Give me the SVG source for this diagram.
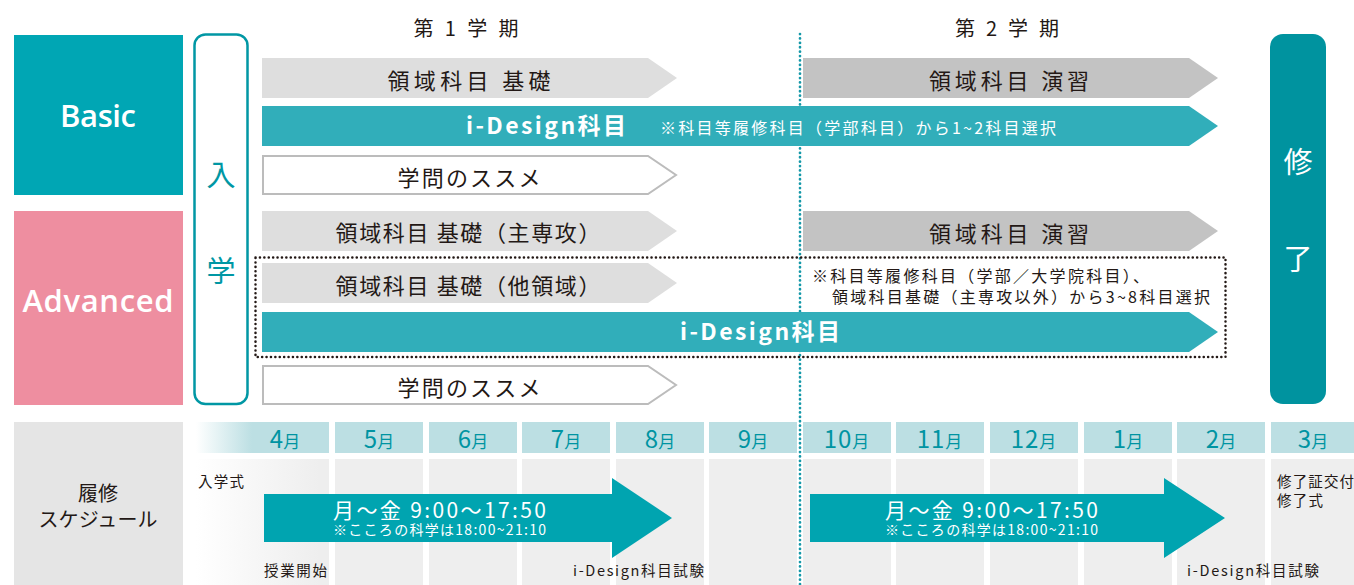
<svg xmlns="http://www.w3.org/2000/svg" width="1354" height="585" viewBox="0 0 1354 585">
<defs>
<style>
text{font-family:"Noto Sans CJK JP","Noto Sans",sans-serif}
.dk{fill:#231815}
.wh{fill:#ffffff}
.lg{fill:#dedede}
.mg{fill:#c3c3c3}
.tl{fill:#31aeba}
.ol{fill:#ffffff;stroke:#bcbcbc;stroke-width:2}
.hd{fill:#bcdfe3}
.bd{fill:#eeeeee}
.mn{fill:#0094a2;font-size:24px}
.mn tspan{font-size:17px}
.sa{fill:#00a4b0}
.lbl{font-size:14.5px;fill:#231815}
.en{font-family:"Open Sans","Noto Sans",sans-serif;font-weight:600;font-size:31px;fill:#ffffff}
</style>
<linearGradient id="hg" gradientUnits="userSpaceOnUse" x1="196" y1="0" x2="252" y2="0">
<stop offset="0" stop-color="#ffffff"/><stop offset="1" stop-color="#bcdfe3"/>
</linearGradient>
<linearGradient id="bg" gradientUnits="userSpaceOnUse" x1="196" y1="0" x2="320" y2="0">
<stop offset="0" stop-color="#ffffff"/><stop offset="1" stop-color="#eeeeee"/>
</linearGradient>
</defs>
<rect width="1354" height="585" fill="#ffffff"/>

<g id="headings">
<text x="466" y="35.5" font-size="20" text-anchor="middle" class="dk" textLength="105">第 1 学 期</text>
<text x="1007" y="35.5" font-size="20" text-anchor="middle" class="dk" textLength="104">第 2 学 期</text>
</g>

<g id="basic">
<rect x="14" y="35" width="169" height="160" fill="#00a6b4"/>
<text class="en" x="98" y="127" text-anchor="middle" textLength="76">Basic</text>
</g>
<g id="advanced">
<rect x="14" y="211" width="169" height="194" fill="#ee8ea0"/>
<text class="en" x="98" y="312" text-anchor="middle" textLength="151">Advanced</text>
</g>
<g id="nyugaku">
<rect x="194.5" y="34.5" width="53" height="369.5" rx="11" fill="#ffffff" stroke="#0097a4" stroke-width="2.5"/>
<text x="221" y="186" font-size="29" text-anchor="middle" fill="#0097a4">入</text>
<text x="221" y="282" font-size="29" text-anchor="middle" fill="#0097a4">学</text>
</g>
<g id="shuryo">
<rect x="1270" y="34" width="56" height="370" rx="13" fill="#00939f"/>
<text x="1298" y="173" font-size="29" text-anchor="middle" class="wh">修</text>
<text x="1298" y="270" font-size="29" text-anchor="middle" class="wh">了</text>
</g>

<g id="connectors">
<line x1="800" y1="34" x2="800" y2="585" stroke="#1498a8" stroke-width="2.7" stroke-linecap="round" stroke-dasharray="0.1 4.3"/>
<rect x="255.5" y="257.5" width="970" height="99.5" fill="none" stroke="#231815" stroke-width="2.5" stroke-linecap="round" stroke-dasharray="0.1 4.3"/>
</g>

<g id="row1-kiso">
<polygon class="lg" points="262,58 648,58 677,78 648,98 262,98"/>
<text x="469" y="88.5" font-size="22" text-anchor="middle" class="dk" textLength="163">領域科目 基礎</text>
</g>
<g id="row1-enshu">
<polygon class="mg" points="803,58 1189,58 1218,78 1189,98 803,98"/>
<text x="1009" y="88.5" font-size="22" text-anchor="middle" class="dk" textLength="160">領域科目 演習</text>
</g>
<g id="row2-idesign">
<polygon class="tl" points="262,106 1189,106 1218,126 1189,146 262,146"/>
<text x="546" y="133.5" font-size="23" font-weight="700" text-anchor="middle" class="wh" textLength="160">i-Design科目</text>
<text x="660" y="134" font-size="16" class="wh" textLength="396">※科目等履修科目（学部科目）から1~2科目選択</text>
</g>
<g id="row3-susume">
<polygon class="ol" points="263,156 648,156 676,175 648,194 263,194"/>
<text x="469" y="185.5" font-size="22" text-anchor="middle" class="dk" textLength="143">学問のススメ</text>
</g>
<g id="row4-kiso">
<polygon class="lg" points="262,211 648,211 677,231 648,251 262,251"/>
<text x="468" y="241" font-size="22" text-anchor="middle" class="dk" textLength="265">領域科目 基礎（主専攻）</text>
</g>
<g id="row4-enshu">
<polygon class="mg" points="803,211 1189,211 1218,231 1189,251 803,251"/>
<text x="1009" y="241.5" font-size="22" text-anchor="middle" class="dk" textLength="160">領域科目 演習</text>
</g>
<g id="row5-kiso">
<polygon class="lg" points="262,263 648,263 677,283 648,303 262,303"/>
<text x="468" y="293.5" font-size="22" text-anchor="middle" class="dk" textLength="265">領域科目 基礎（他領域）</text>
</g>
<g id="row5-note">
<text x="812" y="282" font-size="16" class="dk" textLength="337">※科目等履修科目（学部／大学院科目）、</text>
<text x="832" y="302.5" font-size="16" class="dk" textLength="378">領域科目基礎（主専攻以外）から3~8科目選択</text>
</g>
<g id="row6-idesign">
<polygon class="tl" points="262,312 1189,312 1218,332 1189,352 262,352"/>
<text x="760" y="340" font-size="23" font-weight="700" text-anchor="middle" class="wh" textLength="160">i-Design科目</text>
</g>
<g id="row7-susume">
<polygon class="ol" points="263,366 648,366 676,385 648,404 263,404"/>
<text x="469" y="395.5" font-size="22" text-anchor="middle" class="dk" textLength="143">学問のススメ</text>
</g>

<g id="schedule-label">
<rect x="14" y="422" width="169" height="163" fill="#e5e5e5"/>
<text x="98" y="500.5" font-size="20" text-anchor="middle" class="dk" textLength="40">履修</text>
<text x="98" y="527" font-size="20" text-anchor="middle" class="dk" textLength="119">スケジュール</text>
</g>

<g id="months">
<rect x="196" y="422" width="133" height="31" fill="url(#hg)"/>
<rect x="196" y="459" width="133" height="126" fill="url(#bg)"/>
<rect class="hd" x="335" y="422" width="88" height="31"/><rect class="bd" x="335" y="459" width="88" height="126"/>
<rect class="hd" x="429" y="422" width="88" height="31"/><rect class="bd" x="429" y="459" width="88" height="126"/>
<rect class="hd" x="522" y="422" width="88" height="31"/><rect class="bd" x="522" y="459" width="88" height="126"/>
<rect class="hd" x="616" y="422" width="88" height="31"/><rect class="bd" x="616" y="459" width="88" height="126"/>
<rect class="hd" x="709" y="422" width="88" height="31"/><rect class="bd" x="709" y="459" width="88" height="126"/>
<rect class="hd" x="803" y="422" width="88" height="31"/><rect class="bd" x="803" y="459" width="88" height="126"/>
<rect class="hd" x="896" y="422" width="88" height="31"/><rect class="bd" x="896" y="459" width="88" height="126"/>
<rect class="hd" x="990" y="422" width="88" height="31"/><rect class="bd" x="990" y="459" width="88" height="126"/>
<rect class="hd" x="1084" y="422" width="88" height="31"/><rect class="bd" x="1084" y="459" width="88" height="126"/>
<rect class="hd" x="1177" y="422" width="88" height="31"/><rect class="bd" x="1177" y="459" width="88" height="126"/>
<rect class="hd" x="1271" y="422" width="83" height="31"/><rect class="bd" x="1271" y="459" width="83" height="126"/>
<text class="mn" x="285" y="448" text-anchor="middle">4<tspan>月</tspan></text>
<text class="mn" x="379" y="448" text-anchor="middle">5<tspan>月</tspan></text>
<text class="mn" x="473" y="448" text-anchor="middle">6<tspan>月</tspan></text>
<text class="mn" x="566" y="448" text-anchor="middle">7<tspan>月</tspan></text>
<text class="mn" x="660" y="448" text-anchor="middle">8<tspan>月</tspan></text>
<text class="mn" x="753" y="448" text-anchor="middle">9<tspan>月</tspan></text>
<text class="mn" x="847" y="448" text-anchor="middle" letter-spacing="1">10<tspan>月</tspan></text>
<text class="mn" x="940" y="448" text-anchor="middle" letter-spacing="1">11<tspan>月</tspan></text>
<text class="mn" x="1034" y="448" text-anchor="middle" letter-spacing="1">12<tspan>月</tspan></text>
<text class="mn" x="1128" y="448" text-anchor="middle">1<tspan>月</tspan></text>
<text class="mn" x="1221" y="448" text-anchor="middle">2<tspan>月</tspan></text>
<text class="mn" x="1313" y="448" text-anchor="middle">3<tspan>月</tspan></text>
</g>

<g id="schedule-arrow-1">
<polygon class="sa" points="264,494 612,494 612,478 672,518 612,558 612,542 264,542"/>
<text x="333" y="518" font-size="21" class="wh" textLength="213">月～金 9:00～17:50</text>
<text x="333" y="535" font-size="14" class="wh" textLength="213">※こころの科学は18:00~21:10</text>
</g>
<g id="schedule-arrow-2">
<polygon class="sa" points="810,494 1164,494 1164,478 1225,518 1164,558 1164,542 810,542"/>
<text x="885" y="518" font-size="21" class="wh" textLength="213">月～金 9:00～17:50</text>
<text x="885" y="535" font-size="14" class="wh" textLength="213">※こころの科学は18:00~21:10</text>
</g>

<g id="schedule-labels">
<text class="lbl" x="198" y="487" textLength="46">入学式</text>
<text class="lbl" x="264" y="576" textLength="63">授業開始</text>
<text class="lbl" x="573" y="576" textLength="131">i-Design科目試験</text>
<text class="lbl" x="1187" y="576" textLength="132">i-Design科目試験</text>
<text class="lbl" x="1277" y="487" textLength="77">修了証交付</text>
<text class="lbl" x="1277" y="506" textLength="46">修了式</text>
</g>
</svg>
